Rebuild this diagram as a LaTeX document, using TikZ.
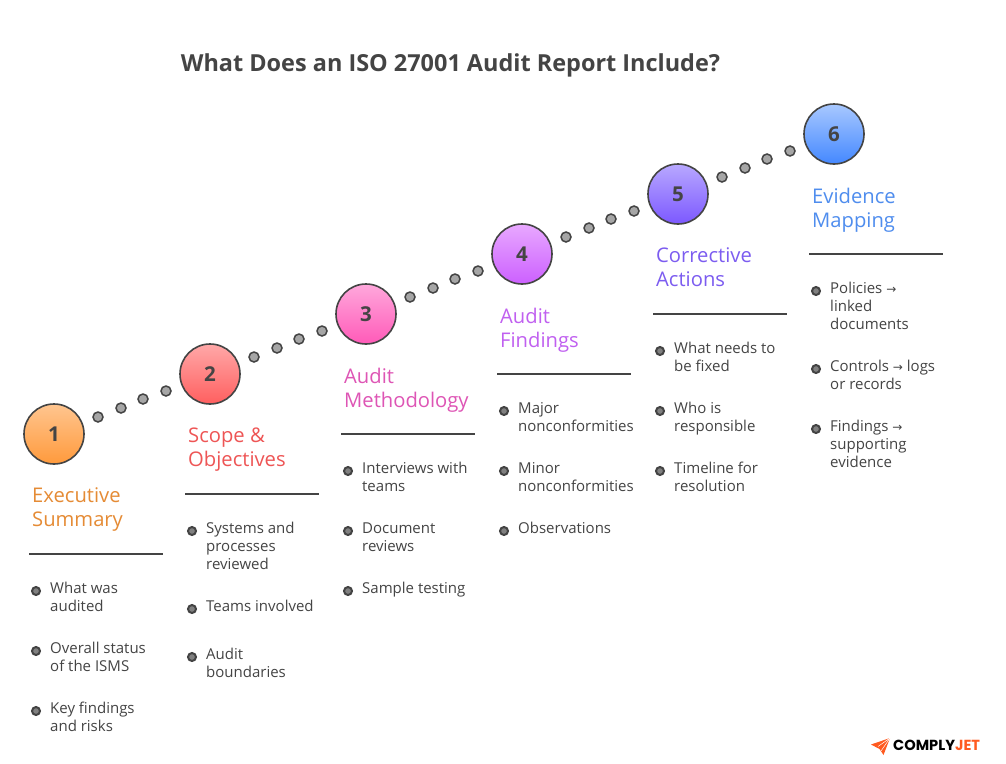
\documentclass[tikz,border=0pt]{standalone}
\usepackage{fontspec}
\setmainfont{Open Sans}
\newfontfamily\arrowfont{DejaVu Sans}
\newfontfamily\logofont{Poppins}
\newcommand{\arr}{{\arrowfont\fontsize{12}{18}\selectfont→}}
\definecolor{ink}{HTML}{444444}
\definecolor{logoorange}{HTML}{FF5A1F}
\definecolor{cA}{HTML}{E58B35}\definecolor{cAt}{HTML}{FFC58F}\definecolor{cAb}{HTML}{FF9A3C}
\definecolor{cB}{HTML}{EE5555}\definecolor{cBt}{HTML}{FFA8A8}\definecolor{cBb}{HTML}{FF5F5F}
\definecolor{cC}{HTML}{DE55B5}\definecolor{cCt}{HTML}{FFA8DC}\definecolor{cCb}{HTML}{FF5AB8}
\definecolor{cD}{HTML}{C060F0}\definecolor{cDt}{HTML}{E8A8FF}\definecolor{cDb}{HTML}{CC60FF}
\definecolor{cE}{HTML}{7C5CF0}\definecolor{cEt}{HTML}{B8A8FF}\definecolor{cEb}{HTML}{7C58FF}
\definecolor{cF}{HTML}{4F8DEE}\definecolor{cFt}{HTML}{A8C8FF}\definecolor{cFb}{HTML}{4488FF}
\tikzset{
  stepdisc/.style={circle,draw=ink,line width=1.6pt,minimum size=60pt,inner sep=0pt,text=ink,
    font=\fontsize{20.5}{22}\selectfont\bfseries},
  trail/.style={circle,draw=ink,fill=black!35,line width=1.5pt,minimum size=10pt,inner sep=0pt},
  head/.style={anchor=north west,inner sep=0pt,align=left,font=\fontsize{20.2}{24}\selectfont},
  rulebar/.style={draw=ink,line width=1.3pt},
  pip/.style={circle,draw=ink,fill=black!50,line width=2pt,minimum size=8pt,inner sep=0pt},
  item/.style={anchor=north west,inner sep=0pt,align=left,text=ink,font=\fontsize{15}{18}\selectfont}
}
\newcommand{\strt}{\rule{0pt}{14pt}}
% column: index, cx, cy, name colour, heading
\newcommand{\column}[5]{%
  \node[stepdisc,top color=#4t,bottom color=#4b] (disc#1) at (#2,#3) {\raisebox{-1.5pt}{#1}};
  \node[head,text=#4] (head#1) at (#2-22,#3+53.5) {\strt #5};
  \coordinate (ruleL#1) at (#2-25,#3+120);
  \coordinate (ruleR#1) at (#2+109,#3+120);
  \draw[rulebar] (ruleL#1) -- (ruleR#1);
}
% bullet: id, cx, y of first-line centre, text
\newcommand{\bul}[4]{%
  \node[pip] (pip#1) at (#2-18,#3+3) {};
  \node[item] (item#1) at (#2-4,#3-8.5) {\strt #4};
}
\begin{document}
\begin{tikzpicture}[x=1pt,y=-1pt]
\useasboundingbox (0,0) rectangle (1006,763);
\fill[white] (0,0) rectangle (1006,763);
\node[anchor=center,inner sep=0pt,text=ink,font=\fontsize{23.45}{28}\selectfont\bfseries] (title) at (450.5,65.5) {What Does an ISO 27001 Audit Report Include?};

\foreach \i/\cx/\cy in {1/54/434,2/210/374,3/366/314,4/522/254,5/678/194}{
  \foreach \k/\dx/\dy in {a/44/-17,b/67/-26,c/89/-35,d/112/-43}{
    \node[trail] (trail\i\k) at (\cx+\dx,\cy+\dy) {};
  }
}

\column{1}{54}{434}{cA}{Executive\\Summary}
\column{2}{210}{374}{cB}{Scope \&\\Objectives}
\column{3}{366}{314}{cC}{Audit\\Methodology}
\column{4}{522}{254}{cD}{Audit\\Findings}
\column{5}{678}{194}{cE}{Corrective\\Actions}
\column{6}{834}{134}{cF}{Evidence\\Mapping}

\bul{1a}{54}{588}{What was\\audited}
\bul{1b}{54}{648}{Overall status\\of the ISMS}
\bul{1c}{54}{708}{Key findings\\and risks}

\bul{2a}{210}{528}{Systems and\\processes\\reviewed}
\bul{2b}{210}{606}{Teams involved}
\bul{2c}{210}{654}{Audit\\boundaries}

\bul{3a}{366}{468}{Interviews with\\teams}
\bul{3b}{366}{528}{Document\\reviews}
\bul{3c}{366}{588}{Sample testing}

\bul{4a}{522}{408}{Major\\nonconformities}
\bul{4b}{522}{468}{Minor\\nonconformities}
\bul{4c}{522}{528}{Observations}

\bul{5a}{678}{348}{What needs to\\be fixed}
\bul{5b}{678}{408}{Who is\\responsible}
\bul{5c}{678}{468}{Timeline for\\resolution}

\bul{6a}{834}{288}{Policies \arr\\linked\\documents}
\bul{6b}{834}{366}{Controls \arr\ logs\\or records}
\bul{6c}{834}{426}{Findings \arr\\supporting\\evidence}

% logo
\fill[logoorange] (871,744.5) -- (890,738) -- (883.5,755) -- (879.5,749) -- cycle;
\draw[white,line width=.5pt] (878,746.5) -- (890,738) (881,751) -- (890,738);
\node[anchor=west,inner sep=0pt,font=\logofont\fontsize{14.6}{15}\selectfont\bfseries] (logo) at (893,745.5) {COMPLY\textcolor{logoorange}{JET}};
\end{tikzpicture}
\end{document}
